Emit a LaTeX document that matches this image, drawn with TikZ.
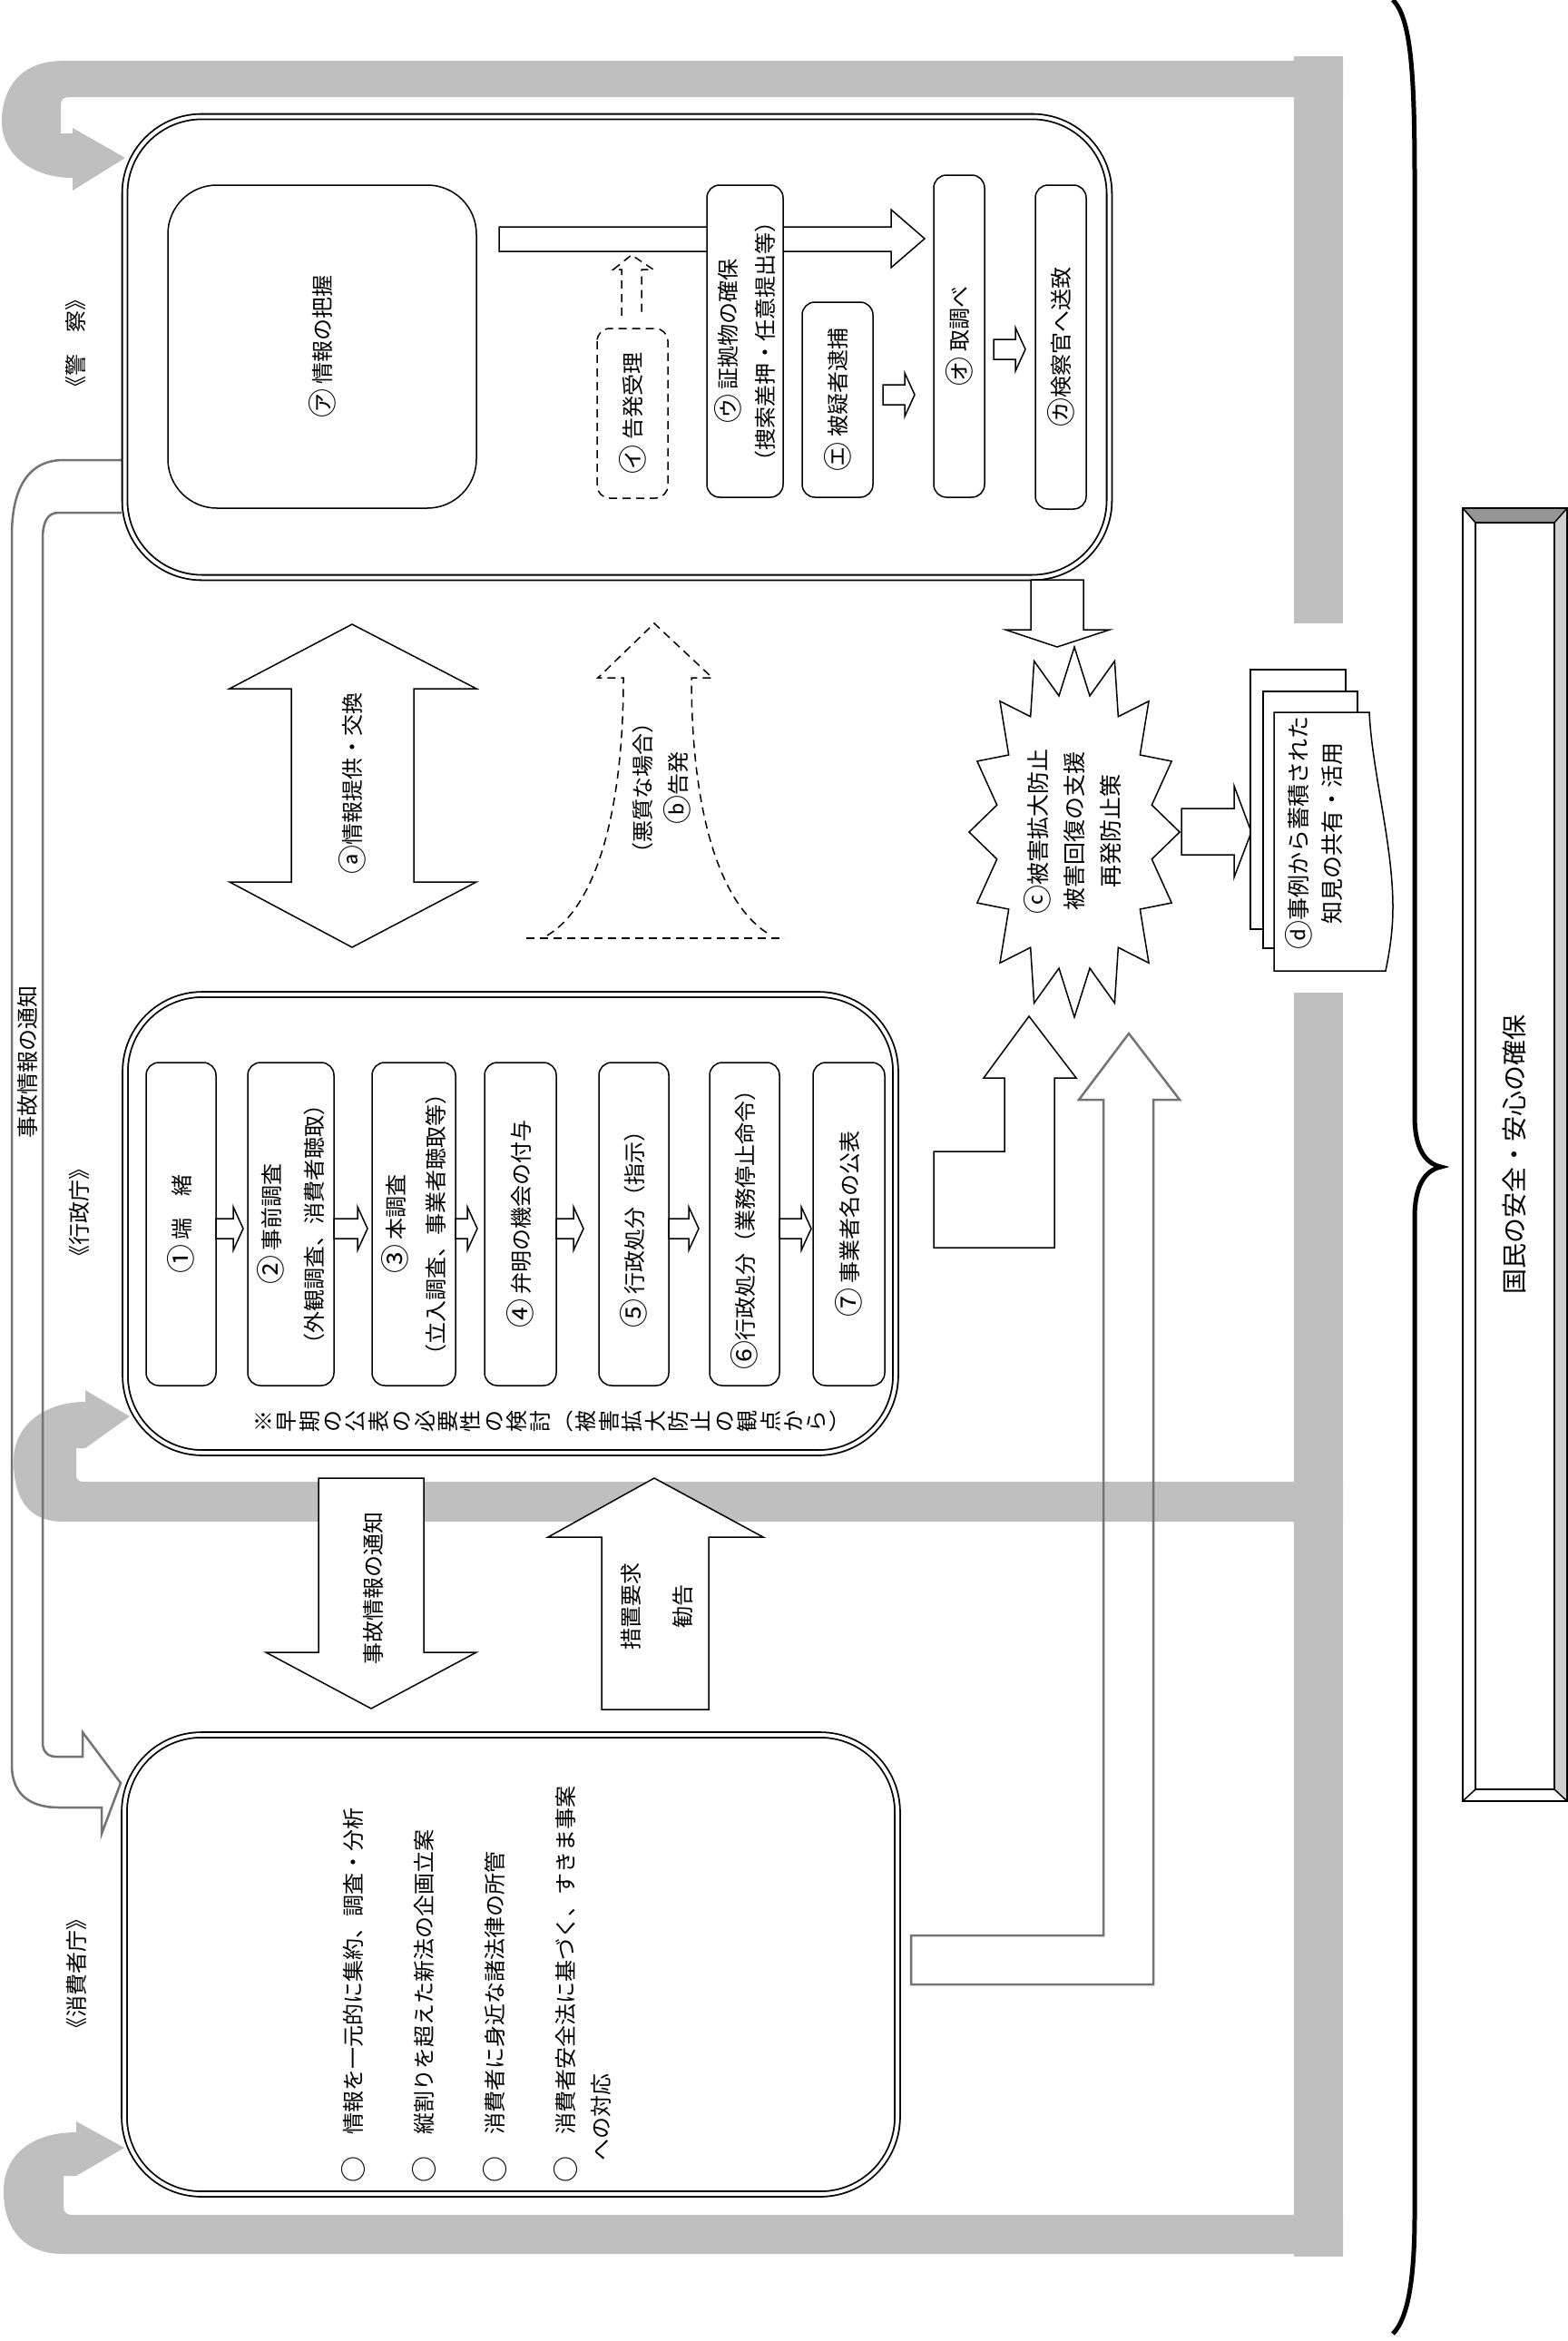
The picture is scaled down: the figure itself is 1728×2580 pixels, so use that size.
\documentclass[tikz,border=0pt]{standalone}
\usepackage{fontspec}
\setmainfont{Noto Sans CJK JP}
\definecolor{bandgray}{RGB}{191,191,191}
\definecolor{linegray}{RGB}{115,115,115}
\definecolor{bevdark}{RGB}{150,150,150}
\definecolor{bevlight}{RGB}{208,208,208}
\tikzset{every picture/.style={x=1pt,y=-1pt}}
\tikzset{lbl/.style={rotate=90,inner sep=0pt,align=center,font=\fontsize{24}{42}\selectfont}}
\tikzset{bigbox/.style={draw,double,double distance=4pt,line width=1.8pt,fill=white,rounded corners=85pt,inner sep=0pt}}
\tikzset{stepbox/.style={draw,line width=1.5pt,fill=white,rounded corners=14pt,rotate=90,align=center,inner sep=0pt,font=\fontsize{24}{44}\selectfont}}
\tikzset{dashbox/.style={stepbox,dash pattern=on 9pt off 6pt}}
\tikzset{blockarr/.style={draw,line width=1.5pt,fill=white,line join=miter}}
\tikzset{grayband/.style={fill=bandgray}}
\tikzset{notify/.style={draw=linegray,line width=2.5pt}}
\tikzset{grayarr/.style={draw=linegray,line width=2.5pt}}
\tikzset{dasharr/.style={line width=1.5pt,dash pattern=on 9pt off 6pt}}
\newcommand{\cnum}[1]{{\fontsize{32}{32}\selectfont\raisebox{-2.5pt}{#1}}}
\newcommand{\bul}{{\fontsize{29}{29}\selectfont\raisebox{-1.5pt}{○}}}
\newcommand{\rblock}[3]{\draw[blockarr] (#1,#3-11) -- (#2-11,#3-11) -- (#2-11,#3-24) -- (#2,#3) -- (#2-11,#3+24) -- (#2-11,#3+11) -- (#1,#3+11) -- cycle;}

\begin{document}
\begin{tikzpicture}
\useasboundingbox (0,0) rectangle (1728,2580);

% gray return bands
\fill[grayband] (1426,62) rectangle (1480,687);
\fill[grayband] (1426,1094) rectangle (1480,2487);
\fill[grayband] (1480,67) -- (70,67) .. controls (20,67) and (2,100) .. (2,134) .. controls (2,170) and (35,196) .. (80,196) -- (80,210) -- (138,174) -- (80,141) -- (80,147) -- (67,147) -- (67,116) .. controls (67,110) and (70,107) .. (76,107) -- (1480,107) -- cycle;
\fill[grayband] (1480,1677) -- (70,1677) .. controls (30,1677) and (15,1650) .. (15,1610) .. controls (15,1570) and (50,1545) .. (94,1545) -- (94,1532) -- (143,1561) -- (94,1596) -- (84,1596) -- (84,1625) .. controls (84,1630) and (86,1633) .. (92,1633) -- (1480,1633) -- cycle;
\fill[grayband] (1480,2484) -- (70,2484) .. controls (25,2484) and (4,2455) .. (4,2415) .. controls (4,2375) and (35,2350) .. (84,2350) -- (84,2338) -- (137,2367) -- (84,2398) -- (70,2398) -- (70,2432) .. controls (70,2438) and (73,2441) .. (80,2441) -- (1480,2441) -- cycle;

% accident notice from police to consumer agency
\draw[notify] (134,507) -- (70,507) .. controls (30,507) and (13,540) .. (13,590) -- (13,1945) .. controls (13,1975) and (30,1992) .. (65,1992) -- (112,1992) -- (112,2021) -- (133,1965) -- (91,1909) -- (91,1936) -- (62,1936) .. controls (52,1936) and (47,1930) .. (47,1920) -- (47,595) .. controls (47,575) and (52,565) .. (65,565) -- (134,565);
\node[lbl] (notify) at (30,1170) {事故情報の通知};

% brace and result
\draw[line width=5pt] (1535,0) .. controls (1555,20) and (1559,80) .. (1559,200) -- (1559,1230) .. controls (1559,1265) and (1570,1282) .. (1588,1286) .. controls (1570,1290) and (1559,1307) .. (1559,1342) -- (1559,2440) .. controls (1559,2510) and (1552,2555) .. (1535,2572);
\fill[white] (1612,560) rectangle (1727,1985);
\fill[bevdark] (1612,560) -- (1727,560) -- (1713,576) -- (1626,576) -- cycle;
\fill[bevlight] (1727,560) -- (1727,1985) -- (1713,1972) -- (1713,576) -- cycle;
\draw[line width=1.5pt] (1612,560) rectangle (1727,1985) (1626,576) rectangle (1713,1972);
\draw[line width=1.5pt] (1612,560) -- (1626,576) (1727,560) -- (1713,576) (1612,1985) -- (1626,1972) (1727,1985) -- (1713,1972);
\node[lbl,font=\fontsize{28}{34}\selectfont] (nation) at (1669,1272) {国民の安全・安心の確保};

% police
\node[bigbox,minimum width=1085pt,minimum height=508pt] (police) at (680,382.5) {};
\node[lbl] (policelbl) at (83,378) {《警　察》};
\draw[blockarr] (550,250) -- (982,250) -- (982,231) -- (1019,263) -- (982,295) -- (982,277) -- (550,277) -- cycle;
\node[stepbox,rounded corners=54pt,minimum width=356pt,minimum height=340pt] (grasp) at (355,382) {\cnum{㋐} 情報の把握};
\node[dashbox,minimum width=187pt,minimum height=78pt] (accept) at (697,455.5) {\cnum{㋑} 告発受理};
\draw[dasharr] (685,348) -- (685,297) -- (676,297) -- (696,281) -- (720,297) -- (707,297) -- (707,348);
\node[stepbox,minimum width=344pt,minimum height=84pt,font=\fontsize{24}{41}\selectfont] (evidence) at (821,376) {\cnum{㋒} 証拠物の確保\\（捜索差押・任意提出等）};
\node[stepbox,minimum width=215pt,minimum height=78pt] (arrest) at (923,440.5) {\cnum{㋓} 被疑者逮捕};
\node[stepbox,minimum width=355pt,minimum height=56pt] (inquiry) at (1057,370.5) {\cnum{㋔} 取調べ};
\node[stepbox,minimum width=357pt,minimum height=56pt] (send) at (1169,382.5) {\cnum{㋕}検察官へ送致};
\rblock{973}{1008}{435}
\rblock{1095}{1130}{385}

% between police and agency
\draw[blockarr] (388,688) -- (525,759) -- (456,759) -- (456,972) -- (525,972) -- (388,1044) -- (253,972) -- (321,972) -- (321,759) -- (253,759) -- cycle;
\node[lbl] (exchange) at (388,863) {\cnum{ⓐ}情報提供・交換};
\draw[dasharr] (580,1034) -- (865,1034);
\draw[dasharr] (603,1031) .. controls (655,1000) and (687,900) .. (687,747) -- (659,747) -- (721,687) -- (785,747) -- (762,747) .. controls (762,900) and (795,1000) .. (850,1031);
\node[lbl,font=\fontsize{24}{39}\selectfont] (charge) at (729,868) {（悪質な場合）\\\cnum{ⓑ}告発};
\draw[blockarr] (1136,639) -- (1136,694) -- (1108,694) -- (1165,713) -- (1223,694) -- (1194,694) -- (1194,639) -- cycle;

% administrative agency
\node[bigbox,minimum width=849pt,minimum height=505pt] (admin) at (562.5,1348.5) {};
\node[lbl] (adminlbl) at (87,1336) {《行政庁》};
\node[stepbox,minimum width=356pt,minimum height=77pt] (s1) at (199.5,1349) {\cnum{①} 端　緒};
\node[stepbox,minimum width=356pt,minimum height=95pt,font=\fontsize{24}{47}\selectfont] (s2) at (320.5,1349) {\cnum{②} 事前調査\\（外観調査、消費者聴取）};
\node[stepbox,minimum width=356pt,minimum height=92pt] (s3) at (456,1349) {\cnum{③} 本調査\\（立入調査、事業者聴取等）};
\node[stepbox,minimum width=356pt,minimum height=79pt] (s4) at (573.5,1349) {\cnum{④} 弁明の機会の付与};
\node[stepbox,minimum width=356pt,minimum height=77pt] (s5) at (698.5,1349) {\cnum{⑤} 行政処分（指示）};
\node[stepbox,minimum width=356pt,minimum height=77pt] (s6) at (820.5,1349) {\cnum{⑥}行政処分（業務停止命令）};
\node[stepbox,minimum width=356pt,minimum height=79pt] (s7) at (935.5,1349) {\cnum{⑦} 事業者名の公表};
\rblock{238}{268}{1354}
\rblock{368}{405}{1354}
\rblock{502}{526}{1354}
\rblock{613}{643}{1354}
\rblock{737}{770}{1354}
\rblock{859}{894}{1354}
\node[lbl,font=\fontsize{24}{25.4}\selectfont] (note) at (608,1566) {※\\早\\期\\の\\公\\表\\の\\必\\要\\性\\の\\検\\討\\︵\\被\\害\\拡\\大\\防\\止\\の\\観\\点\\か\\ら\\︶};

% between agency and consumer affairs agency
\draw[blockarr] (351,1629) -- (467,1629) -- (467,1821) -- (525,1821) -- (409,1883) -- (293,1821) -- (351,1821) -- cycle;
\node[lbl] (notice) at (411,1750) {事故情報の通知};
\draw[blockarr] (721,1629) -- (841,1694) -- (781,1694) -- (781,1884) -- (663,1884) -- (663,1694) -- (604,1694) -- cycle;
\node[lbl,font=\fontsize{24}{57}\selectfont] (request) at (723.5,1770) {措置要求\\勧告};

% consumer affairs agency
\node[bigbox,minimum width=852pt,minimum height=506pt] (consumer) at (563,2165) {};
\node[lbl] (consumerlbl) at (84,2175) {《消費者庁》};
\node[lbl,align=left,anchor=north west,font=\fontsize{24}{39}\selectfont] (duties) at (376,2406) {\bul　情報を一元的に集約、調査・分析\\[39pt]\bul　縦割りを超えた新法の企画立案\\[39pt]\bul　消費者に身近な諸法律の所管\\[39pt]\bul　消費者安全法に基づく、すきま事案\\　への対応};

% towards damage prevention
\draw[blockarr] (1029,1269) -- (1107,1269) -- (1107,1188) -- (1084,1188) -- (1134,1120) -- (1186,1188) -- (1162,1188) -- (1162,1375) -- (1029,1375) -- cycle;
\draw[grayarr] (1004,2133) -- (1216,2133) -- (1216,1212) -- (1189,1212) -- (1244,1139) -- (1300,1212) -- (1271,1212) -- (1271,2187) -- (1004,2187) -- cycle;
\draw[blockarr] (1300,917) \foreach \k in {1,...,31} {-- ({1184+116*(1-0.25*mod(\k,2))*cos(11.25*\k)},{917+204*(1-0.25*mod(\k,2))*sin(11.25*\k)})} -- cycle;
\node[lbl,font=\fontsize{25}{40}\selectfont] (burst) at (1182,916) {\cnum{ⓒ}被害拡大防止\\被害回復の支援\\再発防止策};
\draw[blockarr] (1302,891) -- (1360,891) -- (1360,866) -- (1379,917) -- (1360,967) -- (1360,942) -- (1302,942) -- cycle;

% accumulated knowledge
\draw[line width=1.5pt,fill=white] (1378,738) rectangle (1483,1024);
\draw[line width=1.5pt,fill=white] (1392,762) rectangle (1496,1045);
\draw[line width=1.5pt,fill=white] (1404,785) -- (1509,785) .. controls (1512,850) and (1535,930) .. (1535,1000) .. controls (1535,1030) and (1530,1055) .. (1527,1070) -- (1404,1070) -- cycle;
\node[lbl,font=\fontsize{25}{37}\selectfont] (docs) at (1448,918) {\cnum{ⓓ}事例から蓄積された\\知見の共有・活用};
\end{tikzpicture}
\end{document}
